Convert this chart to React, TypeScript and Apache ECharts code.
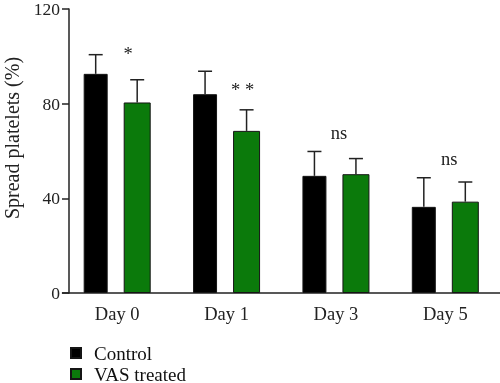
import React, { useEffect, useRef } from "react";
import * as echarts from "echarts";

const categories = ["Day 0", "Day 1", "Day 3", "Day 5"];
const controlMean = [92.6, 84.0, 49.5, 36.4];
const controlErr = [8.1, 9.7, 10.3, 12.3];
const vasMean = [80.5, 68.5, 50.2, 38.6];
const vasErr = [9.6, 8.9, 6.6, 8.3];
const annotationText = ["*", "* *", "ns", "ns"];
const annotationY = [100.8, 85.8, 67.5, 56.5];
const yTicks = { min: 0, max: 120, interval: 40 };

const FONT = "Liberation Serif";
const GREEN = "#0b7a0b";
const BORDER = "#151515";

export default function App() {
  const ref = useRef<HTMLDivElement>(null);
  useEffect(() => {
    if (!ref.current) return;
    const chart = echarts.init(ref.current, null, { renderer: "svg" });

    const errSeries = (means: number[], errs: number[], dx: number, name: string) => ({
      type: "custom",
      name: name + "-err",
      z: 5,
      silent: true,
      data: means.map((m, i) => [i, m, m + errs[i]]),
      renderItem: (params: any, api: any) => {
        const p0 = api.coord([api.value(0), api.value(1)]);
        const p1 = api.coord([api.value(0), api.value(2)]);
        const x = p0[0] + dx;
        return {
          type: "group",
          children: [
            { type: "line", shape: { x1: x, y1: p0[1], x2: x, y2: p1[1] }, style: { stroke: "#222", lineWidth: 1.5 } },
            { type: "line", shape: { x1: x - 7, y1: p1[1], x2: x + 7, y2: p1[1] }, style: { stroke: "#222", lineWidth: 1.5 } },
          ],
        };
      },
    });

    const annoOffsets = [11, 16, 3, 4];
    const legendText = { fontFamily: FONT, fontSize: 19, color: "#111", padding: [0, 0, 0, 8], lineHeight: 16 };

    chart.setOption({
      animation: false,
      grid: { left: 62.5, right: -4.1, top: 6, bottom: 90 },
      xAxis: {
        type: "category",
        data: categories,
        axisLine: { lineStyle: { color: "#222", width: 1.5 } },
        axisTick: { alignWithLabel: true, length: 6, lineStyle: { color: "#222", width: 1.5 } },
        axisLabel: { fontFamily: FONT, fontSize: 18.5, color: "#222", margin: 11 },
      },
      yAxis: {
        type: "value",
        min: yTicks.min,
        max: yTicks.max,
        interval: yTicks.interval,
        offset: -6.5,
        splitLine: { show: false },
        axisLine: { show: true, lineStyle: { color: "#222", width: 1.5 } },
        axisTick: { show: true, length: 7, lineStyle: { color: "#222", width: 1.5 } },
        axisLabel: { fontFamily: FONT, fontSize: 17.5, color: "#222", margin: 9 },
      },
      legend: [
        {
          orient: "vertical",
          left: 65,
          top: 338.5,
          itemWidth: 10,
          itemHeight: 10,
          icon: "rect",
          data: ["Control"],
          textStyle: legendText,
        },
        {
          orient: "vertical",
          left: 65,
          top: 359.5,
          itemWidth: 10,
          itemHeight: 10,
          icon: "rect",
          data: ["VAS treated"],
          textStyle: legendText,
        },
      ],
      graphic: [
        {
          type: "text",
          x: 12,
          y: 138,
          rotation: Math.PI / 2,
          style: {
            text: "Spread platelets (%)",
            fontFamily: FONT,
            fontSize: 20,
            fill: "#222",
            align: "center",
            verticalAlign: "middle",
          },
        },
      ],
      series: [
        {
          type: "bar",
          name: "Control",
          data: controlMean,
          barWidth: 24,
          barGap: "66.7%",
          itemStyle: { color: "#000", borderColor: BORDER, borderWidth: 1 },
        },
        {
          type: "bar",
          name: "VAS treated",
          data: vasMean,
          barWidth: 27,
          itemStyle: { color: GREEN, borderColor: BORDER, borderWidth: 1 },
        },
        errSeries(controlMean, controlErr, -21.5, "Control"),
        errSeries(vasMean, vasErr, 20, "VAS treated"),
        {
          type: "custom",
          name: "annotations",
          silent: true,
          z: 6,
          data: annotationY.map((v, i) => [i, v]),
          renderItem: (params: any, api: any) => {
            const i = api.value(0);
            const p = api.coord([i, api.value(1)]);
            return {
              type: "text",
              x: p[0] + annoOffsets[i],
              y: p[1],
              style: {
                text: annotationText[i],
                fontFamily: FONT,
                fontSize: 18.5,
                fill: "#222",
                align: "center",
                verticalAlign: "middle",
              },
            };
          },
        },
      ],
    });
    return () => chart.dispose();
  }, []);
  return <div ref={ref} style={{ position: "fixed", left: 0, top: 0, width: 500, height: 383 }} />;
}
